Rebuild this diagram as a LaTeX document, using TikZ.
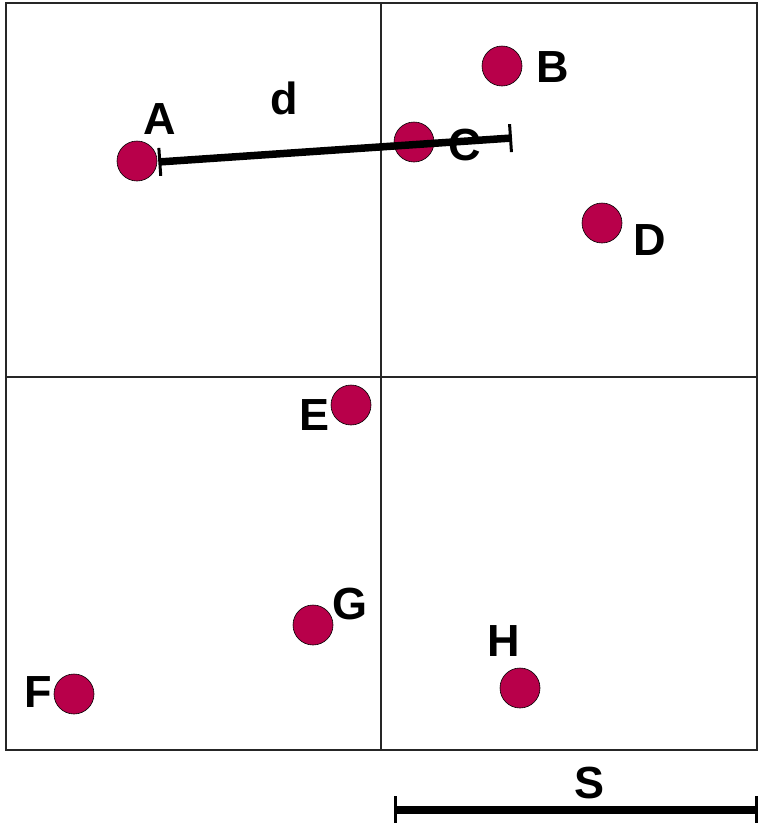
\documentclass[tikz,border=0pt]{standalone}
\usepackage{fontspec}
\setmainfont{Liberation Sans}
\usetikzlibrary{arrows.meta,positioning,calc}
\definecolor{ptCrimson}{HTML}{B8004A}

\begin{document}
\begin{tikzpicture}[x=1pt,y=-1pt,font=\fontsize{45}{50}\selectfont\bfseries,
    pt/.style={circle,fill=ptCrimson,draw=black,line width=0.6pt,minimum size=40pt,inner sep=0pt},
    lbl/.style={inner sep=0pt},
    grid/.style={draw=black!85,line width=1.2pt},
    bar/.style={line width=7.5pt,{Bar[width=28pt,line width=3pt]}-{Bar[width=28pt,line width=3pt]}}]
  \useasboundingbox (0,0) rectangle (758,823);
  % the four cells
  \draw[grid] (6,3) rectangle (757,750);
  \draw[grid] (381,3) -- (381,750);
  \draw[grid] (6,377) -- (757,377);
  % points
  \node[pt] (a) at (137,161) {};
  \node[pt] (b) at (502,66) {};
  \node[pt] (c) at (414,142) {};
  \node[pt] (d) at (602,223) {};
  \node[pt] (e) at (351,405) {};
  \node[pt] (f) at (74,694) {};
  \node[pt] (g) at (313,625) {};
  \node[pt] (h) at (520,688) {};
  \node[lbl] (la) at (160,119) {A};
  \node[lbl] (lb) at (553,67) {B};
  \node[lbl] (lc) at (465,145) {C};
  \node[lbl] (ld) at (650,240) {D};
  \node[lbl] (le) at (315,415) {E};
  \node[lbl] (lf) at (38,692) {F};
  \node[lbl] (lg) at (350,604) {G};
  \node[lbl] (lh) at (504,641) {H};
  % distance d
  \coordinate (dend) at (512,138);
  \draw[bar] (a.east) ++(1,1) coordinate (dstart) -- (dend);
  \node[lbl] (ld2) at (284,98) {d};
  % scale s
  \coordinate (s1) at (394,810);
  \coordinate (s2) at (758,810);
  \draw[bar] (s1) -- (s2);
  \node[lbl] (ls) at (590,783) {S};
\end{tikzpicture}
\end{document}
